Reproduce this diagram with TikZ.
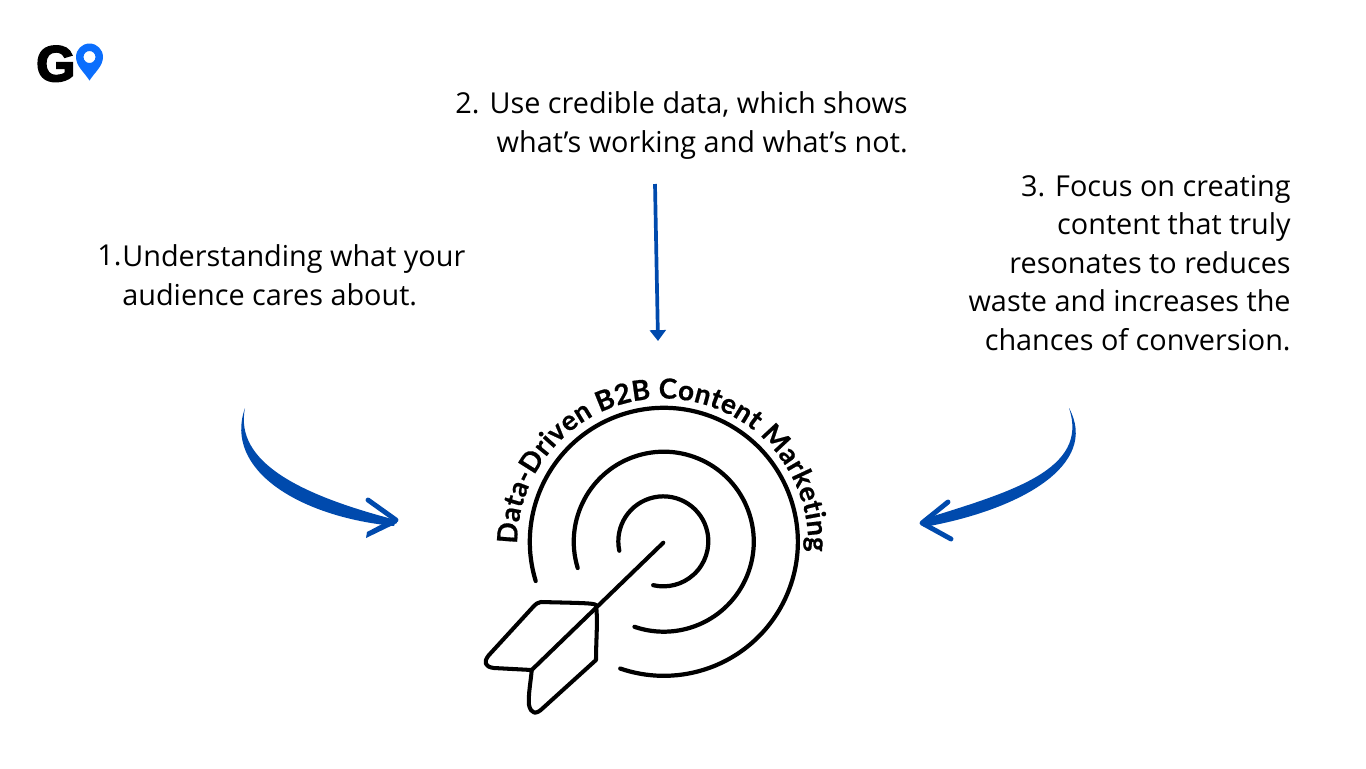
\documentclass[tikz,border=0pt]{standalone}
\usepackage{fontspec}
\setmainfont{Open Sans}
\newfontfamily\logofont[BoldFeatures={FakeBold=4}]{Liberation Sans}
\newfontfamily\ringfont[BoldFeatures={FakeBold=0.6}]{Lato}
\usepackage{tikz}
\usetikzlibrary{decorations.text,arrows.meta}
\definecolor{inkblue}{HTML}{004AAD}
\definecolor{pinblue}{HTML}{0B6EFD}
\tikzset{every picture/.style={x=0.02cm,y=-0.02cm}}
\tikzset{caption/.style={inner sep=0pt, align=right, font=\fontsize{16.4}{22}\selectfont}}
\tikzset{ring/.style={line width=2.4pt, line cap=round}}
\tikzset{dart/.style={line width=2.3pt, line cap=round, line join=round}}
\tikzset{swoosh/.style={draw=inkblue, line width=2.8pt, line cap=round, line join=round}}

\begin{document}
\begin{tikzpicture}
\useasboundingbox (0,0) rectangle (1366,768);

% logo
\node[inner sep=0pt, anchor=base west, font=\logofont\bfseries\fontsize{28.5}{28.5}\selectfont] (logoG) at (36,81) {G};
\fill[pinblue, even odd rule] (89.5,80.5) .. controls (84,72) and (76,66) .. (76,57)
  arc[start angle=180, end angle=360, radius=13.5] .. controls (103,66) and (95,72) .. (89.5,80.5) -- cycle
  (89.5,57) circle[radius=6];

% captions
\node[caption, anchor=north west, align=left] (num1) at (97,244.5) {1.};
\node[caption, anchor=north west, align=left] (cap1) at (122,244.5) {Understanding what your\\audience cares about.};
\node[caption, anchor=north east] (cap2) at (908,91.5) {2. Use credible data, which shows\\what’s working and what’s not.};
\node[caption, anchor=north east] (cap3) at (1291,174.5) {3. Focus on creating\\content that truly\\resonates to reduces\\waste and increases the\\chances of conversion.};

% arrows
\coordinate (midtail) at (655,184);
\coordinate (midtip) at (658,341);
\draw[inkblue, line width=2.1pt, -{Triangle[length=6.2pt,width=9pt]}] (midtail) -- (midtip);

\coordinate (lefttail) at (245,408);
\coordinate (lefttip) at (396,520);
\fill[inkblue] (lefttail) .. controls (223,470) and (300,517) .. (394,526) -- (lefttip)
  .. controls (300,495) and (234,462) .. (lefttail) -- cycle;
\draw[swoosh] (368,500) -- (lefttip);
\fill[inkblue] (lefttip) -- (397,523) -- (366,538) -- (367,532) -- (386,522) -- cycle;

\coordinate (righttail) at (1069,408);
\coordinate (righttip) at (922,523);
\fill[inkblue] (righttail) .. controls (1100,465) and (1020,510) .. (924,527) -- (righttip) -- (924,519)
  .. controls (1010,492) and (1090,470) .. (righttail) -- cycle;
\draw[swoosh] (948,502) -- (righttip) -- (951,539);

% target
\coordinate (center) at (662.7,541.7);
\draw[ring] (535.7,581) arc[start angle=163, end angle=469, radius=134];
\draw[ring] (577.7,568) arc[start angle=163, end angle=469, radius=90];
\draw[ring] (619.3,550.7) arc[start angle=168, end angle=463, radius=45];
\path[decorate, decoration={text along path, text align={fit to path},
    text={|\ringfont\fontsize{15.8}{15.8}\selectfont\bfseries|Data-Driven B2B Content Marketing}}]
  (517.2,544) arc[start angle=180, end angle=363, radius=145.5];

% dart
\coordinate (dartpoint) at (663.3,542.7);
\coordinate (dartneck) at (596,605);
\coordinate (dartend) at (531.7,670);
\draw[dart] (dartpoint) -- (dartend);
\draw[dart] (dartneck) .. controls (594,603) and (580,603) .. (541,602)
  .. controls (538,602) and (536,604) .. (533,607) -- (489,655)
  .. controls (483,662) and (485,667) .. (494,668) -- (dartend);
\draw[dart] (dartneck) .. controls (598,620) and (596,640) .. (596,660)
  -- (543,708) .. controls (536,715) and (531,714) .. (529,705)
  .. controls (528,695) and (531,680) .. (dartend);
\end{tikzpicture}
\end{document}
